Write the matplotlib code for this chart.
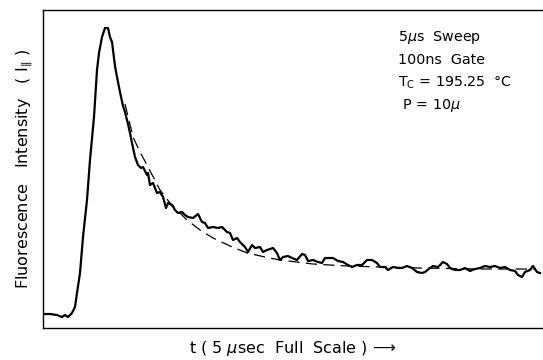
import numpy as np
import matplotlib
matplotlib.use('Agg')
import matplotlib.pyplot as plt

# time in usec (5 usec full scale), intensity in arbitrary units
t_meas = [0.01, 0.07, 0.14, 0.19, 0.22, 0.25, 0.29, 0.32, 0.34, 0.37, 0.40, 0.44,
          0.47, 0.50, 0.51, 0.54, 0.56, 0.59, 0.62, 0.65, 0.67, 0.69, 0.70, 0.72,
          0.74, 0.77, 0.80, 0.82, 0.85, 0.87, 0.89, 0.92, 0.95, 0.98, 1.00, 1.04,
          1.05, 1.07, 1.10, 1.14, 1.17, 1.20, 1.23, 1.25, 1.29, 1.32, 1.35, 1.39,
          1.42, 1.45, 1.50, 1.55, 1.59, 1.62, 1.65, 1.70, 1.75, 1.79, 1.84, 1.87,
          1.90, 1.94, 1.97, 2.02, 2.05, 2.09, 2.12, 2.17, 2.20, 2.24, 2.27, 2.30,
          2.34, 2.37, 2.40, 2.45,
          2.49, 2.54, 2.59, 2.62, 2.65, 2.70, 2.75, 2.79, 2.82, 2.85, 2.90, 2.95,
          3.00, 3.05, 3.09, 3.14, 3.19, 3.24, 3.29, 3.34, 3.37, 3.42, 3.45, 3.50,
          3.55, 3.59, 3.64, 3.69, 3.74, 3.79, 3.82, 3.87, 3.90, 3.95, 4.00, 4.04,
          4.07, 4.12, 4.17, 4.22, 4.27, 4.32, 4.37, 4.42, 4.47, 4.52, 4.57, 4.62,
          4.67, 4.72, 4.75, 4.79, 4.82, 4.87, 4.90, 4.94, 4.97]
i_meas = [14, 14, 13, 11, 13, 11, 15, 21, 35, 55, 91, 128,
          168, 201, 211, 258, 275, 291, 300, 300, 291, 286, 278, 262,
          251, 236, 222, 216, 204, 195, 185, 171, 163, 160, 161, 153,
          155, 143, 145, 135, 136, 131, 120, 125, 123, 118, 115, 116,
          113, 111, 110, 114, 106, 105, 100, 101, 100, 101, 96, 95,
          88, 90, 86, 81, 76, 83, 80, 81, 76, 78, 79, 80,
          75, 68, 71, 72,
          70, 68, 74, 73, 67, 68, 66, 65, 70, 70, 70, 67,
          66, 63, 61, 63, 63, 68, 68, 65, 61, 61, 58, 61,
          60, 60, 62, 60, 56, 55, 56, 60, 62, 61, 66, 64,
          60, 58, 58, 60, 57, 59, 60, 62, 61, 62, 60, 61,
          58, 57, 53, 51, 56, 58, 62, 56, 55]

# single-exponential fit (dashed)
t_fit = [0.82, 0.90, 0.97, 1.04, 1.17, 1.27, 1.44, 1.57, 1.70, 1.87,
         2.04, 2.22, 2.37, 2.70, 3.04, 3.37, 3.77, 4.37, 4.92]
i_fit = [224, 191, 176, 163, 138, 125, 108, 98, 90, 82,
         75, 71, 68, 64, 62, 61, 60, 59, 59]

notes = ['5$\\mu$s  Sweep', '100ns  Gate', 'T$_\\mathrm{C}$ = 195.25  \u00b0C', ' P = 10$\\mu$']

plt.rcParams['font.family'] = ['DejaVu Sans']
plt.rcParams['mathtext.fontset'] = 'dejavusans'

fig = plt.figure(figsize=(5.43, 3.60), dpi=100)
ax = fig.add_axes([43 / 543, 32 / 360, 500 / 543, 318 / 360])

ax.plot(t_meas, i_meas, '-', color='black', lw=1.6, solid_joinstyle='round')
ax.plot(t_fit, i_fit, '--', color='black', lw=0.9, dashes=(9, 5))

ax.set_xlim(0, 5)
ax.set_ylim(0, 318)
ax.set_xticks([]); ax.set_yticks([])
ax.spines['right'].set_visible(False)
for s in ['left', 'top', 'bottom']:
    ax.spines[s].set_linewidth(1.0)

for k, s in enumerate(notes):
    ax.text(3.55, 290 - k * 22.5, s, fontsize=10.3, va='center', ha='left')

ax.set_ylabel('Fluorescence   Intensity   ( I$_{\\|}$ )', fontsize=11.5, labelpad=6)
ax.set_xlabel('t ( 5 $\\mu$sec  Full  Scale ) \u27f6', fontsize=11.5, labelpad=8)

plt.savefig('out.png', dpi=100)
plt.close()
